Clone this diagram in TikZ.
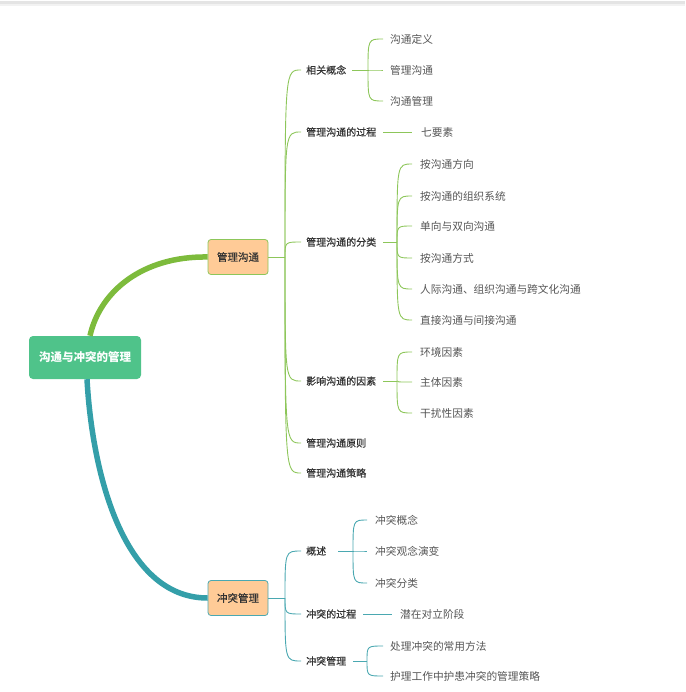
\documentclass[tikz,border=0pt]{standalone}
\usepackage{fontspec}
\setmainfont{Noto Sans CJK SC}
\newfontfamily\lvtwofont{Noto Sans CJK SC}[FakeBold=0.5]
\usetikzlibrary{calc}
\definecolor{rootgreen}{HTML}{4FC38A}
\definecolor{peach}{HTML}{FFCB97}
\definecolor{gthick}{HTML}{7DBB3C}
\definecolor{tthick}{HTML}{349FA9}
\definecolor{gthin}{HTML}{8DC65A}
\definecolor{tthin}{HTML}{4AA8B1}
\definecolor{ctwo}{HTML}{333333}
\definecolor{cthree}{HTML}{555555}
\definecolor{bandgray}{HTML}{E4E4E4}
\definecolor{bandlight}{HTML}{F2F2F2}
\begin{document}
\begin{tikzpicture}[x=1pt,y=-1pt,
  rootbox/.style={rounded corners=4pt, fill=rootgreen, text=white, inner sep=0,
    minimum width=112pt, minimum height=43pt, font=\bfseries\fontsize{11.5}{13}\selectfont},
  mainbox/.style={rounded corners=3pt, fill=peach, line width=0.8pt, inner sep=0,
    minimum width=60pt, minimum height=35pt, text=ctwo, font=\lvtwofont\fontsize{10.5}{12}\selectfont},
  lvtwo/.style={anchor=west, inner sep=0, text=ctwo, font=\lvtwofont\fontsize{10}{12}\selectfont},
  lvthree/.style={anchor=west, inner sep=0, text=cthree, font=\fontsize{10.7}{12}\selectfont},
  gline/.style={draw=gthin, line width=0.9pt},
  tline/.style={draw=tthin, line width=0.9pt}]
\useasboundingbox (0,0) rectangle (685,692);
\fill[bandgray] (0,1) rectangle (685,4);
\fill[bandlight] (0,4) rectangle (685,6);

% root and main branches
\node[rootbox] (root) at (85,357.5) {沟通与冲突的管理};
\node[mainbox, draw=gthin] (m1) at (238,257) {管理沟通};
\node[mainbox, draw=tthin] (m2) at (238,598) {冲突管理};

\draw[gthick, line width=5.5pt] ([xshift=5pt]root.north) .. controls (100,291) and (143,256) .. (m1.west);
\draw[tthick, line width=5.5pt] ([xshift=2pt]root.south) .. controls (92,470) and (122,598) .. (m2.west);

% level 2 under 管理沟通
\node[lvtwo] (a1) at (306,70) {相关概念};
\node[lvtwo] (a2) at (306,132) {管理沟通的过程};
\node[lvtwo] (a3) at (306,242) {管理沟通的分类};
\node[lvtwo] (a4) at (306,381) {影响沟通的因素};
\node[lvtwo] (a5) at (306,443) {管理沟通原则};
\node[lvtwo] (a6) at (306,473) {管理沟通策略};

\coordinate (ja) at (285,257);
\draw[gline] (m1.east) -- (ja);
\foreach \n in {a1,a2,a3,a4,a5,a6}
  \draw[gline] (ja) .. controls (ja |- \n.west) .. ([xshift=-5pt]\n.west);

% 相关概念
\node[lvthree] (b1) at (390,39) {沟通定义};
\node[lvthree] (b2) at (390,70) {管理沟通};
\node[lvthree] (b3) at (390,101) {沟通管理};
\coordinate (jb) at (368,70);
\draw[gline] ([xshift=6pt]a1.east) -- (jb);
\foreach \n in {b1,b2,b3}
  \draw[gline] (jb) .. controls (jb |- \n.west) .. ([xshift=-7pt]\n.west);

% 管理沟通的过程
\node[lvthree] (c1) at (421,132) {七要素};
\draw[gline] ([xshift=7pt]a2.east) -- ([xshift=-9pt]c1.west);

% 管理沟通的分类
\node[lvthree] (d1) at (420,164) {按沟通方向};
\node[lvthree] (d2) at (420,196) {按沟通的组织系统};
\node[lvthree] (d3) at (420,226) {单向与双向沟通};
\node[lvthree] (d4) at (420,258) {按沟通方式};
\node[lvthree] (d5) at (420,289) {人际沟通、组织沟通与跨文化沟通};
\node[lvthree] (d6) at (420,320) {直接沟通与间接沟通};
\coordinate (jd) at (397,242);
\draw[gline] ([xshift=7pt]a3.east) -- (jd);
\foreach \n in {d1,d2,d3,d4,d5,d6}
  \draw[gline] (jd) .. controls (jd |- \n.west) .. ([xshift=-8pt]\n.west);

% 影响沟通的因素
\node[lvthree] (e1) at (420,352) {环境因素};
\node[lvthree] (e2) at (420,382) {主体因素};
\node[lvthree] (e3) at (420,413) {干扰性因素};
\coordinate (je) at (397,381);
\draw[gline] ([xshift=7pt]a4.east) -- (je);
\foreach \n in {e1,e2,e3}
  \draw[gline] (je) .. controls (je |- \n.west) .. ([xshift=-8pt]\n.west);

% level 2 under 冲突管理
\node[lvtwo] (f1) at (306,551) {概述};
\node[lvtwo] (f2) at (306,614) {冲突的过程};
\node[lvtwo] (f3) at (306,661) {冲突管理};
\coordinate (jf) at (285,598);
\draw[tline] (m2.east) -- (jf);
\foreach \n in {f1,f2,f3}
  \draw[tline] (jf) .. controls (jf |- \n.west) .. ([xshift=-5pt]\n.west);

% 概述
\node[lvthree] (g1) at (375,520) {冲突概念};
\node[lvthree] (g2) at (375,551) {冲突观念演变};
\node[lvthree] (g3) at (375,583) {冲突分类};
\coordinate (jg) at (353,551);
\draw[tline] ([xshift=12pt]f1.east) -- (jg);
\foreach \n in {g1,g2,g3}
  \draw[tline] (jg) .. controls (jg |- \n.west) .. ([xshift=-8pt]\n.west);

% 冲突的过程
\node[lvthree] (h1) at (400,614) {潜在对立阶段};
\draw[tline] ([xshift=7pt]f2.east) -- ([xshift=-8pt]h1.west);

% 冲突管理
\node[lvthree] (k1) at (390,646) {处理冲突的常用方法};
\node[lvthree] (k2) at (390,676) {护理工作中护患冲突的管理策略};
\coordinate (jk) at (367,661);
\draw[tline] ([xshift=7pt]f3.east) -- (jk);
\foreach \n in {k1,k2}
  \draw[tline] (jk) .. controls (jk |- \n.west) .. ([xshift=-7pt]\n.west);
\end{tikzpicture}
\end{document}
